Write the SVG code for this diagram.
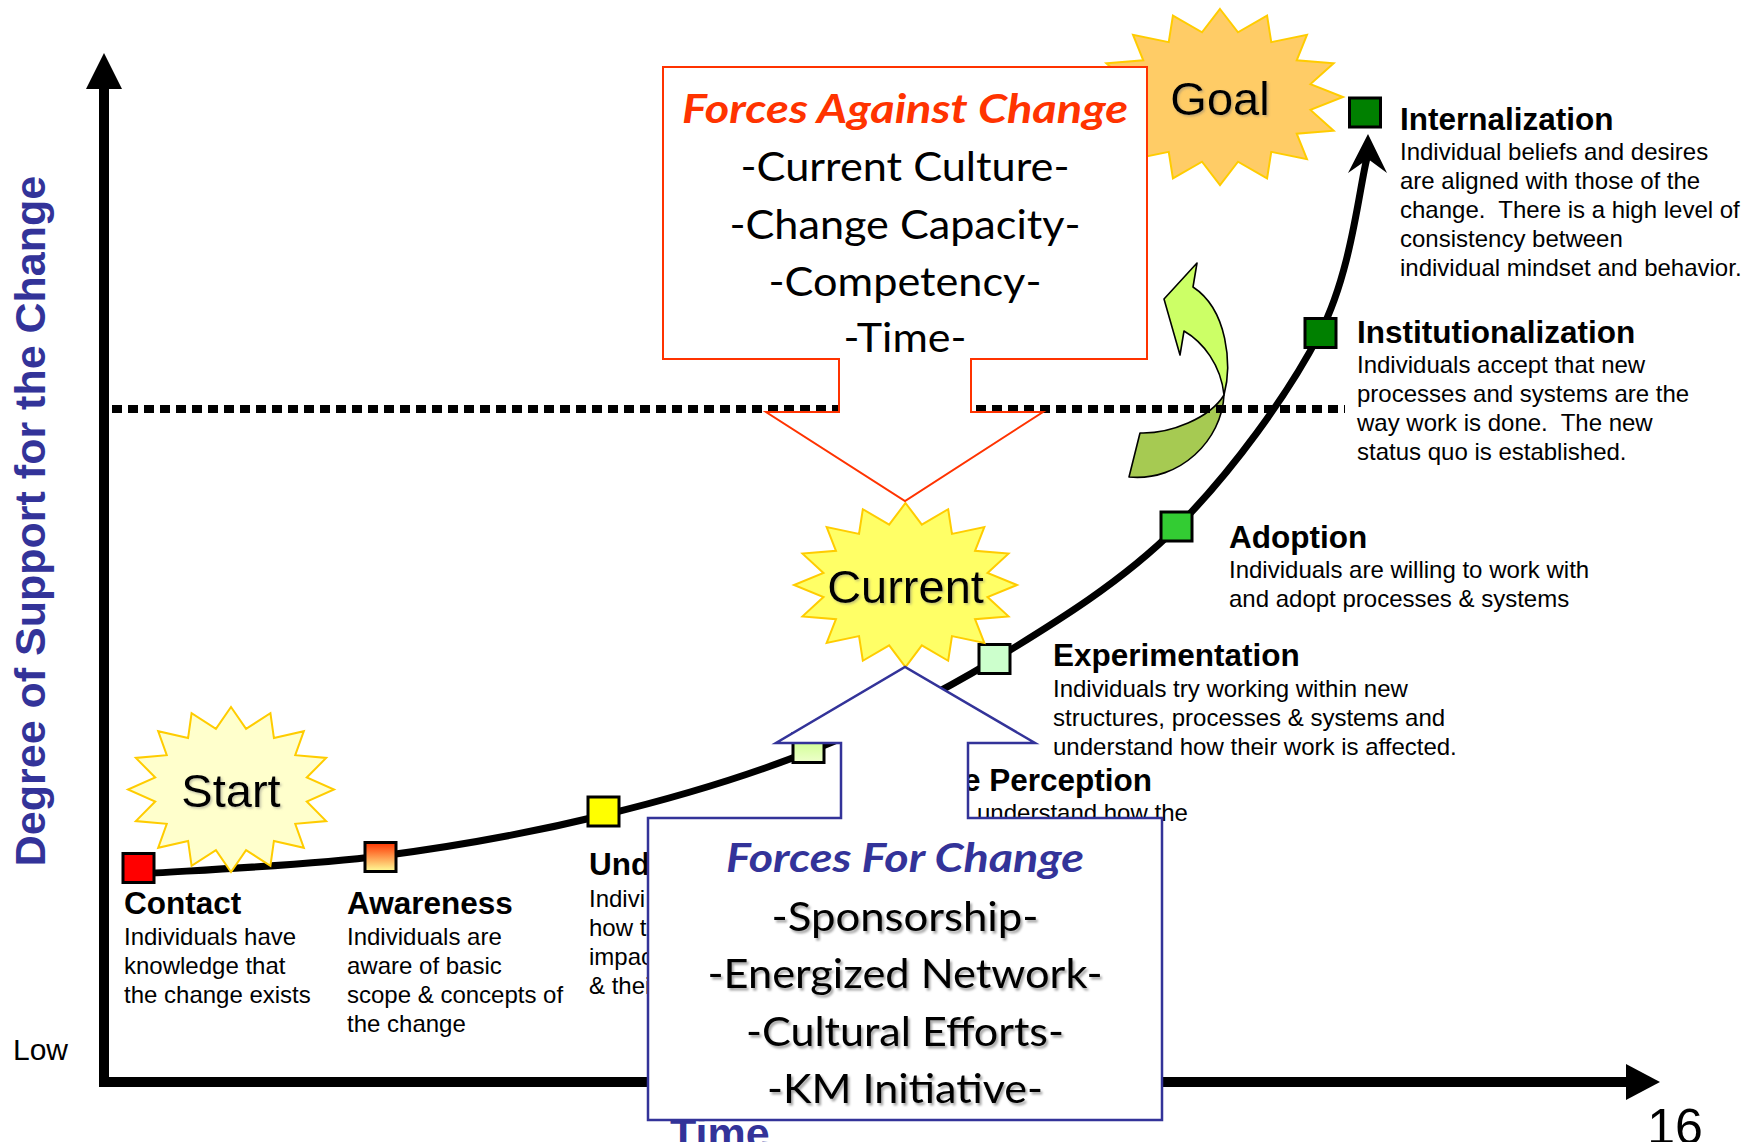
<svg xmlns="http://www.w3.org/2000/svg" xmlns:xlink="http://www.w3.org/1999/xlink" width="1758" height="1142" viewBox="0 0 1758 1142">
  <style>
    .axis { stroke: #000; stroke-width: 10; fill: none; }
    .curve { stroke: #000; stroke-width: 7; fill: none; }
    .sq { stroke: #000; stroke-width: 3; }
    .h { font-family: "Liberation Sans", Arial, sans-serif; font-weight: bold; font-size: 31.5px; fill: #000; }
    .d { font-family: "Liberation Sans", Arial, sans-serif; font-size: 24px; fill: #000; }
    .st { font-family: "Liberation Sans", Arial, sans-serif; font-size: 47px; fill: #000; text-anchor: middle; }
    .cal { font-family: Lato, "Liberation Sans", sans-serif; font-size: 41px; fill: #000; text-anchor: middle; }
    .calh { font-family: Lato, "Liberation Sans", sans-serif; font-size: 41px; font-weight: bold; font-style: italic; text-anchor: middle; }
    .blue { fill: #333399; }
    .ax-label { font-family: "Liberation Sans", Arial, sans-serif; font-weight: bold; font-size: 43px; fill: #333399; }
  </style>
  <defs>
    <polygon id="star16" vector-effect="non-scaling-stroke" points="0,-100 14.63,-73.56 38.27,-92.39 41.67,-62.36 70.71,-70.71 62.36,-41.67 92.39,-38.27 73.56,-14.63 100,0 73.56,14.63 92.39,38.27 62.36,41.67 70.71,70.71 41.67,62.36 38.27,92.39 14.63,73.56 0,100 -14.63,73.56 -38.27,92.39 -41.67,62.36 -70.71,70.71 -62.36,41.67 -92.39,38.27 -73.56,14.63 -100,0 -73.56,-14.63 -92.39,-38.27 -62.36,-41.67 -70.71,-70.71 -41.67,-62.36 -38.27,-92.39 -14.63,-73.56"/>
    <linearGradient id="gAware" x1="0" y1="0" x2="0" y2="1">
      <stop offset="0" stop-color="#ff3300"/>
      <stop offset="1" stop-color="#ffff99"/>
    </linearGradient>
    <linearGradient id="gPercep" x1="0" y1="0" x2="0" y2="1">
      <stop offset="0" stop-color="#c6ff80"/>
      <stop offset="1" stop-color="#eeffcc"/>
    </linearGradient>
    <filter id="shadow" x="-10%" y="-30%" width="130%" height="170%">
      <feDropShadow dx="2" dy="2.5" stdDeviation="1.3" flood-color="#000" flood-opacity="0.35"/>
    </filter>
    <filter id="soft" x="-10%" y="-30%" width="130%" height="170%">
      <feDropShadow dx="1.5" dy="1.5" stdDeviation="1" flood-color="#777" flood-opacity="0.45"/>
    </filter>
  </defs>

  <rect width="1758" height="1142" fill="#fff"/>

  <!-- axes -->
  <g id="axes">
    <line class="axis" x1="104" y1="88" x2="104" y2="1087"/>
    <polygon points="104,53 86,89 122,89" fill="#000"/>
    <line class="axis" x1="99" y1="1082" x2="1627" y2="1082"/>
    <polygon points="1626,1064 1660,1082 1626,1100" fill="#000"/>
    <text class="ax-label" transform="translate(45,521) rotate(-90)" text-anchor="middle">Degree of Support for the Change</text>
    <text x="13" y="1060" font-family="Liberation Sans, Arial, sans-serif" font-size="30">Low</text>
    <text x="1675" y="1144" font-family="Liberation Sans, Arial, sans-serif" font-size="50" text-anchor="middle">16</text>
  </g>

  <!-- twisted green arrow pointing up -->
  <g id="shift-arrow" stroke="#000" stroke-width="1.6" stroke-linejoin="round">
    <path d="M1224,395 C1222,440 1180,482 1129,477 L1140,433 C1170,434 1210,418 1224,395 Z" fill="#a6ca52"/>
    <path d="M1197,263 L1164,299 L1180,355 L1184,331 C1203,342 1221,365 1224,395 C1232,365 1228,310 1193,287 Z" fill="#ccff66"/>
  </g>

  <!-- threshold line -->
  <line id="threshold" x1="112" y1="409" x2="1345" y2="409" stroke="#000" stroke-width="8" stroke-dasharray="10 6"/>

  <!-- commitment curve -->
  <g id="connectors">
    <path class="curve" d="M139,874 C179,871 303.5,866 381,856 C458.5,846 532.8,832.3 604,815 C675.2,797.7 743,777.8 808,752 C873,726.2 932.5,697.5 994,660 C1055.5,622.5 1122.7,581.5 1177,527 C1231.3,472.5 1288.3,394.5 1320,333 C1351.7,271.5 1359.2,187.2 1367,158"/>
    <polygon points="1368,134 1387,173 1368,159 1348,173" fill="#000"/>
  </g>

  <!-- stage markers and labels -->
  <g id="contact">
    <rect class="sq" x="123" y="853.5" width="31" height="29" fill="#ff0000"/>
    <text class="h" x="124" y="914">Contact</text>
    <text class="d" x="124" y="945">Individuals have</text>
    <text class="d" x="124" y="974">knowledge that</text>
    <text class="d" x="124" y="1003">the change exists</text>
  </g>
  <g id="awareness">
    <rect class="sq" x="365" y="842.5" width="31" height="29" fill="url(#gAware)"/>
    <text class="h" x="347" y="914">Awareness</text>
    <text class="d" x="347" y="945">Individuals are</text>
    <text class="d" x="347" y="974">aware of basic</text>
    <text class="d" x="347" y="1003">scope &amp; concepts of</text>
    <text class="d" x="347" y="1032">the change</text>
  </g>
  <g id="understanding">
    <rect class="sq" x="588" y="797" width="31" height="29" fill="#ffff00"/>
    <text class="h" x="589" y="875">Und</text>
    <text class="d" x="589" y="907">Indivi</text>
    <text class="d" x="589" y="936">how t</text>
    <text class="d" x="589" y="965">impac</text>
    <text class="d" x="589" y="994">&amp; thei</text>
  </g>
  <g id="perception">
    <rect class="sq" x="793" y="733.5" width="31" height="29" fill="url(#gPercep)"/>
    <text class="h" x="963" y="791">e Perception</text>
    <text class="d" x="977" y="821">understand how the</text>
  </g>
  <g id="experimentation">
    <rect class="sq" x="979" y="644.5" width="31" height="29" fill="#ccffcc"/>
    <text class="h" x="1053" y="666">Experimentation</text>
    <text class="d" x="1053" y="697">Individuals try working within new</text>
    <text class="d" x="1053" y="726">structures, processes &amp; systems and</text>
    <text class="d" x="1053" y="755">understand how their work is affected.</text>
  </g>
  <g id="adoption">
    <rect class="sq" x="1161" y="512" width="31" height="29" fill="#33cc33"/>
    <text class="h" x="1229" y="548">Adoption</text>
    <text class="d" x="1229" y="578">Individuals are willing to work with</text>
    <text class="d" x="1229" y="607">and adopt processes &amp; systems</text>
  </g>
  <g id="institutionalization">
    <rect class="sq" x="1305" y="318.5" width="31" height="29" fill="#008000"/>
    <text class="h" x="1357" y="343">Institutionalization</text>
    <text class="d" x="1357" y="373">Individuals accept that new</text>
    <text class="d" x="1357" y="402">processes and systems are the</text>
    <text class="d" x="1357" y="431" xml:space="preserve">way work is done.  The new</text>
    <text class="d" x="1357" y="460">status quo is established.</text>
  </g>
  <g id="internalization">
    <rect class="sq" x="1349.5" y="98" width="31" height="29" fill="#008000"/>
    <text class="h" x="1400" y="130">Internalization</text>
    <text class="d" x="1400" y="159.5">Individual beliefs and desires</text>
    <text class="d" x="1400" y="188.5">are aligned with those of the</text>
    <text class="d" x="1400" y="217.5" xml:space="preserve">change.  There is a high level of</text>
    <text class="d" x="1400" y="246.5">consistency between</text>
    <text class="d" x="1400" y="275.5">individual mindset and behavior.</text>
  </g>

  <!-- bursts -->
  <g id="start">
    <use xlink:href="#star16" transform="translate(231,789.5) scale(1.03,0.825)" fill="#ffffcc" stroke="#ffcc00" stroke-width="2"/>
    <text class="st" x="231" y="807" font-size="46" filter="url(#soft)">Start</text>
  </g>
  <g id="current">
    <use xlink:href="#star16" transform="translate(905.5,585) scale(1.115,0.82)" fill="#ffff66" stroke="#ffcc00" stroke-width="2"/>
    <text class="st" x="905.5" y="603" filter="url(#soft)">Current</text>
  </g>
  <g id="goal">
    <use xlink:href="#star16" transform="translate(1220,97) scale(1.23,0.88)" fill="#ffcc66" stroke="#ffcc00" stroke-width="2"/>
    <text class="st" x="1220" y="115" filter="url(#soft)">Goal</text>
  </g>

  <!-- forces against change -->
  <g id="forces-against">
    <path d="M663,67 H1147 V359 H971 V412 H1043 L905,501 L766,412 H839 V359 H663 Z" fill="#fff" stroke="#ff3300" stroke-width="2"/>
    <text class="calh" x="905" y="123" fill="#ff3300" textLength="446" lengthAdjust="spacingAndGlyphs">Forces Against Change</text>
    <text class="cal" x="905" y="181" textLength="329" lengthAdjust="spacingAndGlyphs">-Current Culture-</text>
    <text class="cal" x="905" y="239" textLength="351" lengthAdjust="spacingAndGlyphs">-Change Capacity-</text>
    <text class="cal" x="905" y="296" textLength="273" lengthAdjust="spacingAndGlyphs">-Competency-</text>
    <text class="cal" x="905" y="352" textLength="123" lengthAdjust="spacingAndGlyphs">-Time-</text>
  </g>

  <text id="time-label" class="ax-label" x="670" y="1148" font-size="44">Time</text>

  <!-- forces for change -->
  <g id="forces-for">
    <path d="M648,1120 H1162 V818 H968 V743 H1035 L905,667 L776,743 H841 V818 H648 Z" fill="#fff" stroke="#333399" stroke-width="2.5"/>
    <text class="calh blue" x="905" y="872" textLength="358" lengthAdjust="spacingAndGlyphs">Forces For Change</text>
    <g filter="url(#shadow)">
      <text class="cal" x="905" y="931" textLength="267" lengthAdjust="spacingAndGlyphs">-Sponsorship-</text>
      <text class="cal" x="905" y="988" textLength="395" lengthAdjust="spacingAndGlyphs">-Energized Network-</text>
      <text class="cal" x="905" y="1046" textLength="318" lengthAdjust="spacingAndGlyphs">-Cultural Efforts-</text>
      <text class="cal" x="905" y="1103" textLength="276" lengthAdjust="spacingAndGlyphs">-KM Initiative-</text>
    </g>
  </g>
</svg>
